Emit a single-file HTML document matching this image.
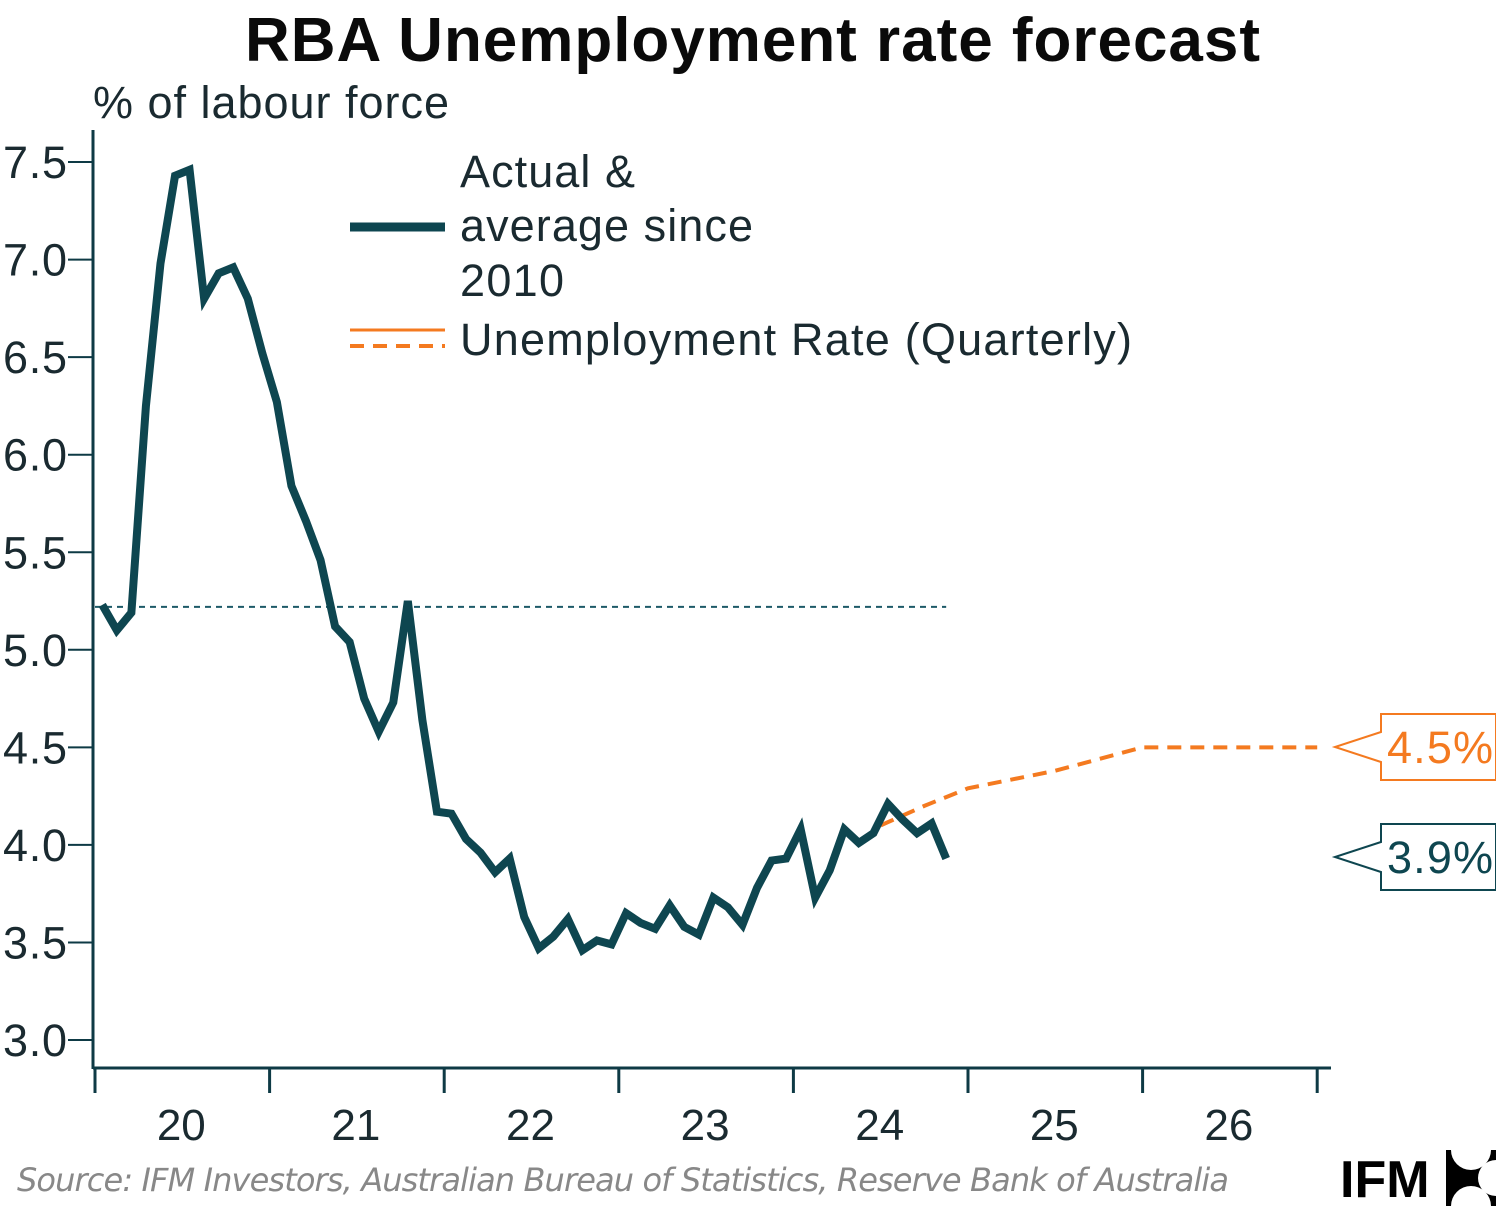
<!DOCTYPE html>
<html><head><meta charset="utf-8"><style>
body{margin:0;background:#fff;width:1496px;height:1215px;overflow:hidden;font-family:"Liberation Sans",sans-serif}
</style></head><body>
<svg id="c" width="1496" height="1215" xmlns="http://www.w3.org/2000/svg" font-family="Liberation Sans, sans-serif">
<text x="245" y="61" font-size="62" font-weight="bold" fill="#0a0a0a" textLength="1015">RBA Unemployment rate forecast</text>
<text x="93" y="118" font-size="45" fill="#1a2a30" textLength="356">% of labour force</text>
<g id="axes"></g>
<g id="marks"></g>
<g>
<line x1="350" y1="227" x2="445" y2="227" stroke="#0e4650" stroke-width="9"/>
<text font-size="45" fill="#1a2a30"><tspan x="460" y="187" textLength="175">Actual &amp;</tspan><tspan x="460" y="241" textLength="293">average since</tspan><tspan x="460" y="296" textLength="104">2010</tspan></text>
<line x1="350" y1="330" x2="445" y2="330" stroke="#f47a20" stroke-width="3"/>
<line x1="350" y1="346" x2="445" y2="346" stroke="#f47a20" stroke-width="4" stroke-dasharray="14 9"/>
<text x="460" y="355" font-size="45" fill="#1a2a30" textLength="672">Unemployment Rate (Quarterly)</text>
</g>
<g>
<path d="M1381,714 H1496 V780 H1381 V762 L1335,747 L1381,732 Z" fill="#fff" stroke="#f47a20" stroke-width="2"/>
<text x="1387" y="763" font-size="45" fill="#f47a20" textLength="106">4.5%</text>
</g>
<g>
<path d="M1381,824 H1496 V890 H1381 V872 L1335,857 L1381,842 Z" fill="#fff" stroke="#0e4650" stroke-width="2"/>
<text x="1387" y="873" font-size="45" fill="#0e4650" textLength="106">3.9%</text>
</g>
<text x="17" y="1191" font-size="32" font-style="italic" fill="#888" font-family="DejaVu Sans, sans-serif" textLength="1212">Source: IFM Investors, Australian Bureau of Statistics, Reserve Bank of Australia</text>
<g>
<text x="1340" y="1197" font-size="52" font-weight="bold" fill="#000">IFM</text>
<rect x="1446" y="1150" width="50" height="56" fill="#000"/>
<circle cx="1471" cy="1150" r="20" fill="#fff"/><circle cx="1471" cy="1206" r="20" fill="#fff"/>
<circle cx="1496" cy="1178" r="18" fill="#fff"/>
</g>
</svg>
<script>
const years=["20","21","22","23","24","25","26"];
const yTicks=[3.0,3.5,4.0,4.5,5.0,5.5,6.0,6.5,7.0,7.5];
const actual=[5.23,5.10,5.19,6.25,6.98,7.43,7.46,6.80,6.93,6.96,6.80,6.52,
6.27,5.84,5.66,5.46,5.12,5.04,4.75,4.58,4.73,5.25,4.64,4.17,
4.16,4.03,3.96,3.86,3.93,3.63,3.47,3.53,3.62,3.46,3.51,3.49,
3.65,3.60,3.57,3.69,3.58,3.54,3.73,3.68,3.59,3.78,3.92,3.93,
4.08,3.73,3.87,4.08,4.01,4.06,4.21,4.13,4.06,4.11,3.93];
const forecastT=[4.5,4.75,5.0,5.5,6.0,6.5,7.0];
const forecast=[4.10,4.20,4.29,4.38,4.50,4.50,4.50];
const average=5.22;
const NS="http://www.w3.org/2000/svg";
const X0=95,YW=174.6;
const xs=t=>X0+t*YW;
const ys=v=>1040-(v-3)*195.1;
const ax=document.getElementById('axes'),mk=document.getElementById('marks');
function el(tag,at,p){const e=document.createElementNS(NS,tag);for(const k in at)e.setAttribute(k,at[k]);p.appendChild(e);return e;}
const ya=el('line',{x1:93,y1:130,x2:93,y2:1069,stroke:'#0e3a45','stroke-width':3},ax);


yTicks.forEach(v=>{
 const t=el('line',{x1:68,y1:ys(v),x2:93,y2:ys(v),stroke:'#0e3a45','stroke-width':2},ax);
 
 
 const l=el('text',{x:3,y:ys(v)+16,'font-size':45,fill:'#1a2a30',textLength:64},ax);
 l.textContent=v.toFixed(1);
 
 
});
const xa=el('line',{x1:93,y1:1068,x2:1331,y2:1068,stroke:'#0e3a45','stroke-width':3},ax);


for(let i=0;i<=years.length;i++){
 const t=el('line',{x1:xs(i),y1:1068,x2:xs(i),y2:1093,stroke:'#0e3a45','stroke-width':3},ax);
 
 
}
years.forEach((y,i)=>{
 const l=el('text',{x:xs(i+0.5)-1,y:1140,'font-size':44,fill:'#1a2a30','text-anchor':'middle'},ax);
 l.textContent=y;
 
 
});
const avg=el('line',{x1:xs(0),y1:ys(average),x2:xs((actual.length-0.5)/12),y2:ys(average),stroke:'#1d5a68','stroke-width':2,'stroke-dasharray':'6 5'},mk);


const fp=el('polyline',{points:forecast.map((v,i)=>xs(forecastT[i])+','+ys(v)).join(' '),fill:'none',stroke:'#f47a20','stroke-width':4,'stroke-dasharray':'14 9'},mk);


const ap=el('polyline',{points:actual.map((v,i)=>xs((i+0.5)/12)+','+ys(v)).join(' '),fill:'none',stroke:'#0e4650','stroke-width':8,'stroke-linejoin':'miter'},mk);


</script>
</body></html>
